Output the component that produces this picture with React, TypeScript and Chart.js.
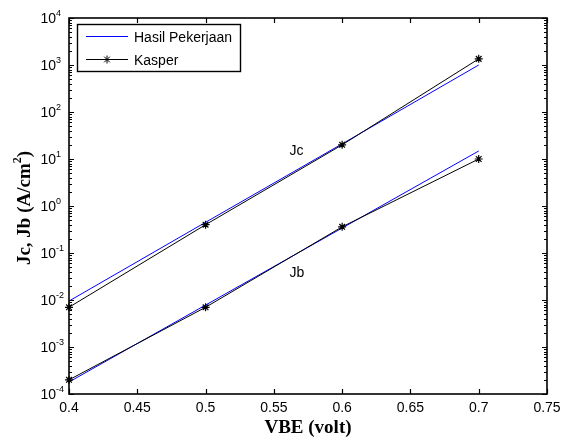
import React, { useEffect, useRef } from 'react';
import { Chart, registerables } from 'chart.js';

Chart.register(...registerables);

const vbe = [0.4, 0.5, 0.6, 0.7];
const hasilJc = [9.5e-3, 0.45, 21, 1000];
const hasilJb = [1.8e-4, 7.8e-3, 0.34, 14.8];
const kasperJc = [7e-3, 0.4, 20, 1350];
const kasperJb = [2e-4, 7e-3, 0.36, 10];

const xTicks = [0.4, 0.45, 0.5, 0.55, 0.6, 0.65, 0.7, 0.75];
const xTickLabels = ['0.4', '0.45', '0.5', '0.55', '0.6', '0.65', '0.7', '0.75'];
const yExponents = [-4, -3, -2, -1, 0, 1, 2, 3, 4];
const legendLabels = ['Hasil Pekerjaan', 'Kasper'];
const xTitle = 'VBE (volt)';
const yTitleMain = 'Jc, Jb (A/cm';
const yTitleSup = '2';
const yTitleEnd = ')';
const noteJc = { text: 'Jc', x: 0.5615, y: 15 };
const noteJb = { text: 'Jb', x: 0.5615, y: 0.037 };

const BLUE = '#0000ff';
const BLACK = '#000000';

function drawStar(ctx: CanvasRenderingContext2D, x: number, y: number, r: number) {
  ctx.beginPath();
  ctx.moveTo(x - r, y);
  ctx.lineTo(x + r, y);
  ctx.moveTo(x, y - r);
  ctx.lineTo(x, y + r);
  const d = r * Math.SQRT1_2;
  ctx.moveTo(x - d, y - d);
  ctx.lineTo(x + d, y + d);
  ctx.moveTo(x - d, y + d);
  ctx.lineTo(x + d, y - d);
  ctx.stroke();
}

const matlabAxes = {
  id: 'matlabAxes',
  afterDraw(chart: any) {
    const ctx: CanvasRenderingContext2D = chart.ctx;
    const xs = chart.scales.x;
    const ys = chart.scales.y;
    const area = chart.chartArea;
    const L = Math.round(area.left);
    const R = Math.round(area.right);
    const T = Math.round(area.top);
    const B = Math.round(area.bottom);
    ctx.save();
    ctx.strokeStyle = BLACK;
    ctx.lineWidth = 1.6;
    // frame
    ctx.strokeRect(L, T, R - L, B - T);
    // x ticks
    ctx.lineWidth = 1.2;
    ctx.beginPath();
    xTicks.forEach((v) => {
      const px = Math.round(xs.getPixelForValue(v)) + 0.5;
      ctx.moveTo(px, B);
      ctx.lineTo(px, B - 5);
      ctx.moveTo(px, T);
      ctx.lineTo(px, T + 5);
    });
    // y ticks
    yExponents.forEach((e, i) => {
      for (let m = 1; m <= 9; m++) {
        if (m > 1 && i === yExponents.length - 1) break;
        const val = m * Math.pow(10, e);
        const py = Math.round(ys.getPixelForValue(val)) + 0.5;
        const len = m === 1 ? 5 : 3;
        ctx.moveTo(L, py);
        ctx.lineTo(L + len, py);
        ctx.moveTo(R, py);
        ctx.lineTo(R - len, py);
      }
    });
    ctx.stroke();

    // x tick labels
    ctx.fillStyle = BLACK;
    ctx.font = '14px "Liberation Sans", Arial, sans-serif';
    ctx.textAlign = 'center';
    ctx.textBaseline = 'middle';
    xTicks.forEach((v, i) => {
      ctx.fillText(xTickLabels[i], xs.getPixelForValue(v), 408);
    });

    // y tick labels
    yExponents.forEach((e) => {
      const py = ys.getPixelForValue(Math.pow(10, e));
      ctx.font = '14px "Liberation Sans", Arial, sans-serif';
      ctx.textAlign = 'right';
      ctx.textBaseline = 'middle';
      ctx.fillText('10', 56, py + 1);
      ctx.font = '9px "Liberation Sans", Arial, sans-serif';
      ctx.textAlign = 'left';
      ctx.fillText(String(e), 56, py - 4);
    });

    // annotations
    ctx.font = '14px "Liberation Sans", Arial, sans-serif';
    ctx.textAlign = 'left';
    ctx.textBaseline = 'middle';
    [noteJc, noteJb].forEach((n) => {
      ctx.fillText(n.text, xs.getPixelForValue(n.x), ys.getPixelForValue(n.y));
    });

    // x title
    ctx.font = 'bold 19px "Liberation Serif", "Times New Roman", serif';
    ctx.textAlign = 'center';
    ctx.textBaseline = 'middle';
    ctx.fillText(xTitle, (area.left + area.right) / 2, 428);

    // y title
    ctx.save();
    ctx.translate(25, (area.top + area.bottom) / 2 + 2);
    ctx.rotate(-Math.PI / 2);
    const mainFont = 'bold 19px "Liberation Serif", "Times New Roman", serif';
    const supFont = 'bold 12px "Liberation Serif", "Times New Roman", serif';
    ctx.font = mainFont;
    const w1 = ctx.measureText(yTitleMain).width;
    const w3 = ctx.measureText(yTitleEnd).width;
    ctx.font = supFont;
    const w2 = ctx.measureText(yTitleSup).width;
    let sx = -(w1 + w2 + w3) / 2;
    ctx.textAlign = 'left';
    ctx.textBaseline = 'middle';
    ctx.font = mainFont;
    ctx.fillText(yTitleMain, sx, 0);
    sx += w1;
    ctx.font = supFont;
    ctx.fillText(yTitleSup, sx, -7);
    sx += w2;
    ctx.font = mainFont;
    ctx.fillText(yTitleEnd, sx, 0);
    ctx.restore();

    // legend
    const lx = 77.5, ly = 24.5, lw = 163, lh = 47;
    ctx.fillStyle = '#ffffff';
    ctx.fillRect(lx, ly, lw, lh);
    ctx.strokeStyle = BLACK;
    ctx.lineWidth = 1.4;
    ctx.strokeRect(lx, ly, lw, lh);
    ctx.lineWidth = 1;
    const rows = [
      { label: legendLabels[0], color: BLUE, y: 36.5, star: false },
      { label: legendLabels[1], color: BLACK, y: 59.5, star: true },
    ];
    rows.forEach((r) => {
      ctx.strokeStyle = r.color;
      ctx.beginPath();
      ctx.moveTo(86, r.y);
      ctx.lineTo(128, r.y);
      ctx.stroke();
      if (r.star) drawStar(ctx, 107, r.y, 4);
      ctx.fillStyle = BLACK;
      ctx.font = '14px "Liberation Sans", Arial, sans-serif';
      ctx.textAlign = 'left';
      ctx.textBaseline = 'middle';
      ctx.fillText(r.label, 134, r.y + 1.5);
    });
    ctx.restore();
  },
};

export default function App() {
  const ref = useRef<HTMLCanvasElement | null>(null);
  useEffect(() => {
    if (!ref.current) return;
    const toPts = (ys: number[]) => vbe.map((x, i) => ({ x, y: ys[i] }));
    const chart = new Chart(ref.current, {
      type: 'line',
      data: {
        datasets: [
          { label: 'Hasil Jc', data: toPts(hasilJc), borderColor: BLUE, borderWidth: 1, pointRadius: 0, order: 2, fill: false, clip: false },
          { label: 'Hasil Jb', data: toPts(hasilJb), borderColor: BLUE, borderWidth: 1, pointRadius: 0, order: 2, fill: false, clip: false },
          { label: 'Kasper Jc', data: toPts(kasperJc), borderColor: BLACK, borderWidth: 1, pointStyle: 'star', pointRadius: 4, pointBorderColor: BLACK, pointBorderWidth: 1.2, order: 1, fill: false, clip: false },
          { label: 'Kasper Jb', data: toPts(kasperJb), borderColor: BLACK, borderWidth: 1, pointStyle: 'star', pointRadius: 4, pointBorderColor: BLACK, pointBorderWidth: 1.2, order: 1, fill: false, clip: false },
        ],
      },
      options: {
        responsive: false,
        animation: false,
        layout: { padding: { left: 69, right: 14, top: 18, bottom: 47 } },
        plugins: { legend: { display: false }, tooltip: { enabled: false } },
        elements: { line: { tension: 0 } },
        scales: {
          x: { type: 'linear', min: 0.4, max: 0.75, display: false },
          y: { type: 'logarithmic', min: 1e-4, max: 1e4, display: false },
        },
      },
      plugins: [matlabAxes],
    });
    return () => chart.destroy();
  }, []);
  return (
    <div style={{ position: 'fixed', left: 0, top: 0, width: 561, height: 441, background: '#fff' }}>
      <canvas ref={ref} width={561} height={441} />
    </div>
  );
}
